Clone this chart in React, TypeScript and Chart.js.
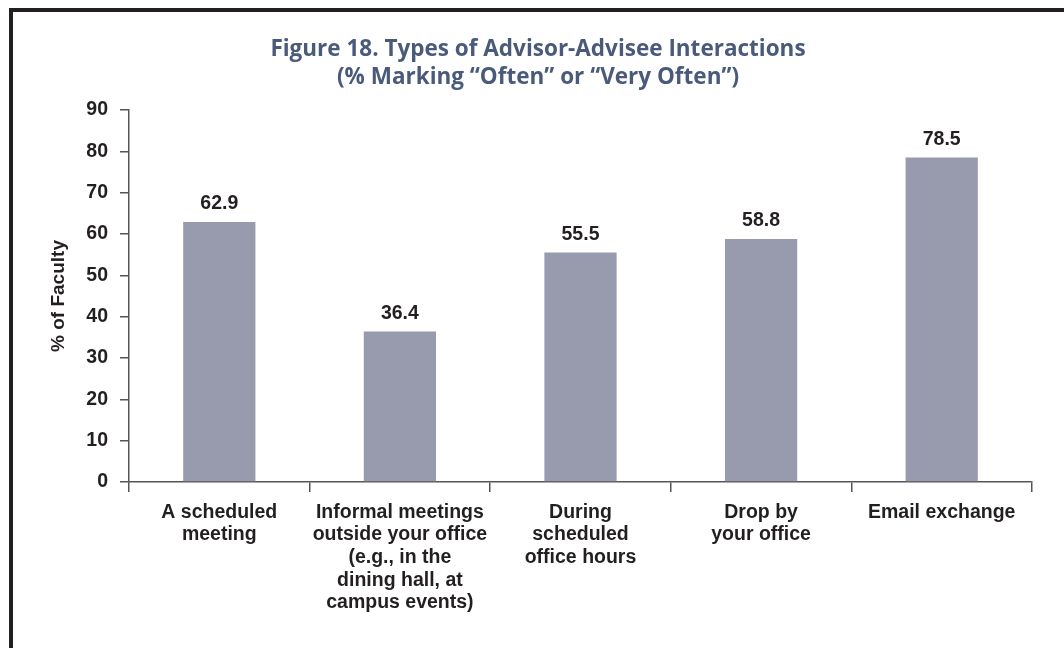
import React, { useEffect, useRef } from "react";
import { Chart, registerables } from "chart.js";

Chart.register(...registerables);

const titleLines = [
  "Figure 18. Types of Advisor-Advisee Interactions",
  "(% Marking “Often” or “Very Often”)",
];
const yAxisTitle = "% of Faculty";
const categories: string[][] = [
  ["A scheduled", "meeting"],
  ["Informal meetings", "outside your office", "(e.g., in the", "dining hall, at", "campus events)"],
  ["During", "scheduled", "office hours"],
  ["Drop by", "your office"],
  ["Email exchange"],
];
const values = [62.9, 36.4, 55.5, 58.8, 78.5];
const yMin = 0;
const yMax = 90;
const yStep = 10;

const TEXT = "#231f20";
const AXIS = "#555555";
const BAR = "#989aae";
const TITLE = "#4a5a7b";
const ARIAL = '"Liberation Sans", Arial, Helvetica, sans-serif';

const valueLabels = {
  id: "valueLabels",
  afterDatasetsDraw(chart: any) {
    const ctx = chart.ctx;
    const meta = chart.getDatasetMeta(0);
    ctx.save();
    ctx.font = `bold 19.5px ${ARIAL}`;
    ctx.fillStyle = TEXT;
    ctx.textAlign = "center";
    ctx.textBaseline = "alphabetic";
    meta.data.forEach((bar: any, i: number) => {
      ctx.fillText(values[i].toFixed(1), bar.x, bar.y - 13);
    });
    ctx.restore();
  },
};

export default function App() {
  const ref = useRef<HTMLCanvasElement | null>(null);

  useEffect(() => {
    if (!ref.current) return;
    const chart = new Chart(ref.current, {
      type: "bar",
      data: {
        labels: categories,
        datasets: [
          {
            data: values,
            backgroundColor: BAR,
            borderWidth: 0,
            barPercentage: 0.4,
            categoryPercentage: 1.0,
          },
        ],
      },
      options: {
        responsive: false,
        animation: false,
        devicePixelRatio: 1,
        layout: { padding: { left: 31, right: 24, top: 0, bottom: 0 } },
        plugins: {
          legend: { display: false },
          tooltip: { enabled: false },
          title: {
            display: true,
            text: titleLines,
            color: TITLE,
            font: { family: '"Open Sans", "Noto Sans", sans-serif', size: 22.5, weight: "bold", lineHeight: 1.25 },
            padding: { top: 23.1, bottom: 18.65 },
          },
        },
        scales: {
          x: {
            afterFit: (scale: any) => {
              scale.height = 150;
            },
            grid: {
              display: true,
              drawOnChartArea: false,
              drawTicks: true,
              tickLength: 10,
              color: AXIS,
              lineWidth: 1.5,
              offset: true,
            },
            border: { display: true, color: AXIS, width: 1.5 },
            ticks: {
              autoSkip: false,
              maxRotation: 0,
              minRotation: 0,
              padding: 9,
              color: TEXT,
              font: { family: ARIAL, size: 19.5, weight: "bold", lineHeight: 1.16 },
            },
          },
          y: {
            min: yMin,
            max: yMax,
            afterFit: (scale: any) => {
              scale.width = 85;
            },
            grid: {
              display: true,
              drawOnChartArea: false,
              drawTicks: true,
              tickLength: 9,
              color: AXIS,
              lineWidth: 1.5,
            },
            border: { display: true, color: AXIS, width: 1.5 },
            ticks: {
              stepSize: yStep,
              padding: 12,
              color: TEXT,
              font: { family: ARIAL, size: 19.5, weight: "bold" },
            },
            title: {
              display: true,
              text: yAxisTitle,
              color: TEXT,
              font: { family: ARIAL, size: 19, weight: "bold", lineHeight: 1.2 },
              padding: { top: 3, bottom: 0 },
            },
          },
        },
      },
      plugins: [valueLabels],
    });
    return () => chart.destroy();
  }, []);

  return (
    <div
      style={{
        position: "absolute",
        left: 9,
        top: 8,
        width: 1055,
        height: 640,
        boxSizing: "border-box",
        borderTop: "4px solid #231f20",
        borderLeft: "4px solid #231f20",
        background: "#ffffff",
        overflow: "hidden",
      }}
    >
      <canvas ref={ref} width={1043} height={620} style={{ display: "block" }} />
    </div>
  );
}
